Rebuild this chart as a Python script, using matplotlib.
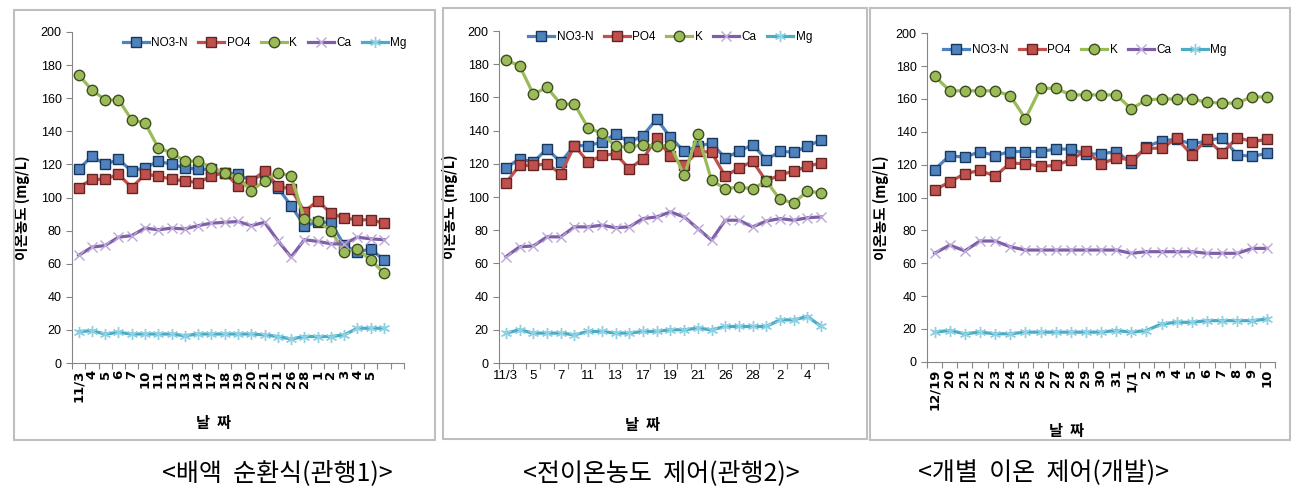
import numpy as np
import matplotlib
matplotlib.use('Agg')
import matplotlib.pyplot as plt
from matplotlib.patches import Rectangle

plt.rcParams['font.family'] = ['Noto Sans CJK KR', 'DejaVu Sans']
NARROW = ['Liberation Sans Narrow', 'Liberation Sans', 'DejaVu Sans']

series_names = ['NO3-N', 'PO4', 'K', 'Ca', 'Mg']

# panel 1: 배액 순환식
dates1 = ['11/3', '4', '5', '6', '7', '10', '11', '12', '13', '14', '17', '18', '19',
          '20', '21', '21', '26', '28', '1', '2', '3', '4', '5', '', '']
no3_1 = [117, 125, 120, 123, 116, 118, 122, 120, 118, 117, 117, 115, 114, 110, 115,
         106, 95, 83, 85, 85, 71, 67, 69, 62]
po4_1 = [106, 111, 111, 114, 106, 114, 113, 111, 110, 109, 113, 115, 107, 110, 116,
         107, 105, 91.5, 98, 90.5, 87.5, 86.5, 86.5, 84.5]
k_1 = [174, 165, 159, 159, 147, 145, 130, 127, 122, 122, 118, 115, 112, 104, 110,
       115, 113, 87, 85.5, 80, 67, 69, 62, 54.5]
ca_1 = [65, 70, 71, 76, 77, 81.5, 80.5, 81.5, 81, 83, 84.5, 85, 85.5, 83, 85,
        74, 64, 74.5, 73.5, 72, 72, 76, 75, 74.5]
mg_1 = [19, 19.5, 17.5, 18.5, 17.5, 17.5, 17.5, 17.5, 16.5, 17.5, 17.5, 17.5, 17.5,
        17.5, 17, 16, 14.5, 16, 16, 16, 17, 21, 21, 21]

# panel 2: 전이온농도 제어
dates2 = ['11/3', '', '5', '', '7', '', '11', '', '13', '', '17', '', '19', '',
          '21', '', '26', '', '28', '', '2', '', '4', '']
no3_2 = [117.5, 123, 121, 129, 121, 131, 131, 133, 138, 133, 137, 147, 136, 127.5,
         130.5, 132.5, 123.5, 127.5, 131.5, 122.5, 127.5, 127, 130.5, 134.5]
po4_2 = [108.5, 119, 119, 120, 114, 131, 121, 125, 126, 117, 123, 135.5, 124.5, 119,
         127.5, 127, 112.5, 117.5, 121.5, 109.5, 113.5, 115.5, 118.5, 120.5]
k_2 = [182.5, 179, 162, 166, 156, 156, 141.5, 138.5, 130.5, 130, 131.5, 130.5, 131.5,
       113, 138, 110, 105, 106, 105, 109.5, 98.5, 96.5, 103.5, 102.5]
ca_2 = [64, 70, 70.5, 76, 76, 82, 82, 83, 81.5, 82, 87, 88, 91, 88, 81, 74, 86, 86,
        82, 85.5, 87, 86, 87.5, 88]
mg_2 = [18, 20, 18, 18, 18, 17, 19, 19, 18, 18, 19, 19, 20, 20, 21, 20, 22, 22, 22,
        22, 26, 26, 28, 22]

# panel 3: 개별 이온 제어
dates3 = ['12/19', '20', '21', '22', '23', '24', '25', '26', '27', '28', '29', '30',
          '31', '1/1', '2', '3', '4', '5', '6', '7', '8', '9', '10']
no3_3 = [117, 125.5, 124.5, 128, 125.5, 128, 128, 128, 129.5, 129.5, 126.5, 126.5,
         128, 121, 131, 134.5, 135.5, 132.5, 134.5, 136.5, 126, 125, 127]
po4_3 = [104.5, 109.5, 114.5, 116.5, 113, 121, 120.5, 119, 119.5, 123, 128.5, 120.5,
         124, 123, 130, 130, 136, 126, 135.5, 127, 136.5, 134, 135.5]
k_3 = [174, 165, 165, 165, 165, 162, 148, 166.5, 166.5, 162.5, 162.5, 162.5, 162.5,
       154, 159.5, 160, 160, 160, 158, 157.5, 157.5, 161.5, 161]
ca_3 = [66, 71, 67.5, 73.5, 73.5, 70, 68, 68, 68, 68, 68, 68, 68, 66, 67, 67, 67, 67,
        66, 66, 66, 69, 69]
mg_3 = [18, 19, 17, 18, 17, 17, 18, 18, 18, 18, 18, 18, 19, 18, 19, 23, 24, 24, 25,
        25, 25, 25, 26]

captions = ['<배액  순환식(관행1)>', '<전이온농도  제어(관행2)>', '<개별  이온  제어(개발)>']

styles = [
    dict(color='#4F81BD', marker='s', mfc='#4F81BD', mec='#17375E', ms=7.5, mew=1.0),
    dict(color='#C0504D', marker='s', mfc='#C0504D', mec='#632523', ms=7.5, mew=1.0),
    dict(color='#9BBB59', marker='o', mfc='#9BBB59', mec='#3D4D1F', ms=7.5, mew=1.0),
    dict(color='#7F60A8', marker='x', mfc='none', mec='#BBA8D8', ms=7, mew=1.0),
    dict(color='#4BACC6', marker=(6, 2, 0), mfc='none', mec='#8FD0E2', ms=8, mew=1.0),
]


def draw_panel(ax, dates, series, rot, legend_xy, xlab_xy, ylab_x):
    n = len(dates)
    x = np.arange(n)
    for name, vals, st in zip(series_names, series, styles):
        ax.plot(x[:len(vals)], vals, lw=2.3, label=name, **st)
    ax.set_xlim(-0.5, n - 0.5)
    ax.set_ylim(0, 200)
    ax.set_yticks(np.arange(0, 201, 20))
    ax.set_xticks(np.arange(n + 1) - 0.5)
    ax.set_xticklabels([])
    ax.set_xticks(x, minor=True)
    if rot:
        ax.set_xticklabels(dates, minor=True, rotation=90, fontsize=9.5,
                           fontweight='bold', family='DejaVu Sans', va='top')
    else:
        ax.set_xticklabels(dates, minor=True, fontsize=9.5, family=NARROW)
    ax.tick_params(axis='x', which='minor', length=0, pad=5)
    ax.tick_params(axis='x', which='major', length=4, color='#868686')
    ax.tick_params(axis='y', length=4, color='#868686', labelsize=9)
    for lbl in ax.get_yticklabels():
        lbl.set_family(NARROW)
    for s in ['top', 'right']:
        ax.spines[s].set_visible(False)
    for s in ['left', 'bottom']:
        ax.spines[s].set_color('#868686')
    ax.set_xlabel('날  짜', fontsize=11, fontweight='bold')
    ax.xaxis.set_label_coords(*xlab_xy)
    ax.set_ylabel('이온농도 (mg/L)', fontsize=10.5, fontweight='bold')
    ax.yaxis.set_label_coords(ylab_x, 0.47)
    ax.legend(loc='center', bbox_to_anchor=legend_xy, ncol=5, frameon=False,
              prop={'family': NARROW, 'size': 8.5}, handlelength=2.2,
              handletextpad=0.2, columnspacing=0.9, borderaxespad=0)


fig = plt.figure(figsize=(13.04, 5.0), dpi=100)

frames = [(14, 10, 435, 440), (443, 8, 867, 439), (870, 8, 1290, 440)]
for (x0, y0, x1, y1) in frames:
    fig.add_artist(Rectangle((x0 / 1304, 1 - y1 / 500), (x1 - x0) / 1304, (y1 - y0) / 500,
                             transform=fig.transFigure, fill=False,
                             edgecolor='#BFBFBF', lw=1.5))

ax1 = fig.add_axes([0.0552, 0.274, 0.2546, 0.662])
ax2 = fig.add_axes([0.3827, 0.274, 0.2523, 0.664])
ax3 = fig.add_axes([0.7109, 0.2766, 0.2669, 0.6568])

draw_panel(ax1, dates1, [no3_1, po4_1, k_1, ca_1, mg_1], True,
           (0.58, 0.967), (0.425, -0.157), -0.125)
draw_panel(ax2, dates2, [no3_2, po4_2, k_2, ca_2, mg_2], False,
           (0.52, 0.982), (0.435, -0.163), -0.125)
draw_panel(ax3, dates3, [no3_3, po4_3, k_3, ca_3, mg_3], True,
           (0.454, 0.949), (0.402, -0.187), -0.11)

for cx, txt in zip([0.213, 0.507, 0.80], captions):
    fig.text(cx, 0.054, txt, ha='center', va='center', fontsize=18)

fig.savefig('out.png', dpi=100)
